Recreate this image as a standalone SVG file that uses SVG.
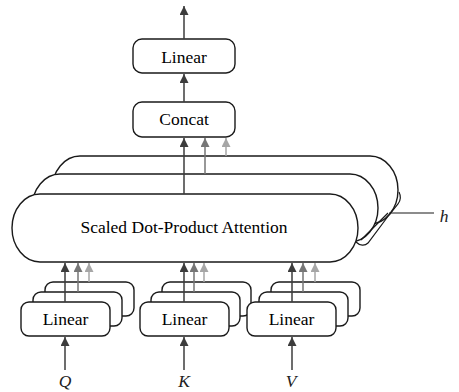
<svg xmlns="http://www.w3.org/2000/svg" width="459" height="392" viewBox="0 0 459 392">
  <style>
    .box { fill: #fff; stroke: #1a1a1a; stroke-width: 1.4; }
    .lbl { font-family: 'Liberation Serif', 'Times New Roman', serif; font-size: 17.5px; fill: #000; text-anchor: middle; }
    .var { font-family: 'Liberation Serif', 'Times New Roman', serif; font-size: 17.5px; font-style: italic; fill: #222; text-anchor: middle; }
    .a1 { stroke: #3c3c3c; stroke-width: 1.5; fill: none; marker-end: url(#h1); }
    .a2 { stroke: #767676; stroke-width: 1.5; fill: none; marker-end: url(#h2); }
    .a3 { stroke: #a6a6a6; stroke-width: 1.5; fill: none; marker-end: url(#h3); }
    .thin { stroke: #1a1a1a; stroke-width: 1.2; fill: none; }
  </style>
  <defs>
    <marker id="h1" viewBox="0 0 10 10" refX="10" refY="5" markerWidth="10" markerHeight="9" markerUnits="userSpaceOnUse" orient="auto">
      <path d="M0,0 L10,5 L0,10 Z" fill="#3c3c3c"/>
    </marker>
    <marker id="h2" viewBox="0 0 10 10" refX="10" refY="5" markerWidth="10" markerHeight="9" markerUnits="userSpaceOnUse" orient="auto">
      <path d="M0,0 L10,5 L0,10 Z" fill="#767676"/>
    </marker>
    <marker id="h3" viewBox="0 0 10 10" refX="10" refY="5" markerWidth="10" markerHeight="9" markerUnits="userSpaceOnUse" orient="auto">
      <path d="M0,0 L10,5 L0,10 Z" fill="#a6a6a6"/>
    </marker>
  </defs>

  <!-- stacked attention heads (back to front) -->
  <g id="attention">
    <path class="box" d="M80,156 H370 A28,34 0 0 1 370,224 H80 A28,34 0 0 1 80,156 Z"/>
    <path class="box" d="M60,174 H350 A28,34 0 0 1 350,242 H60 A28,34 0 0 1 60,174 Z"/>
    <path class="box" d="M40,194 H330 A28,34 0 0 1 330,262 H40 A28,34 0 0 1 40,194 Z"/>
    <text class="lbl" x="184" y="233">Scaled Dot-Product Attention</text>
  </g>

  <!-- head-count brace -->
  <g id="heads">
    <path class="thin" d="M356,242 C360,246 365,246 368,243 L389,215 L398,204 C401,200 401,196 399,192"/>
    <path class="thin" d="M361,240 L388,213"/>
    <path class="thin" d="M389,213 H434"/>
    <text class="var" x="444" y="222">h</text>
  </g>

  <g id="linear-out">
    <rect class="box" x="133" y="39" width="102" height="34" rx="9"/>
    <text class="lbl" x="184" y="63">Linear</text>
  </g>

  <g id="concat">
    <rect class="box" x="133" y="102" width="102" height="35" rx="9"/>
    <text class="lbl" x="184" y="125">Concat</text>
  </g>

  <g id="linear-q">
    <rect class="box" x="45" y="282" width="89" height="34" rx="8"/>
    <rect class="box" x="33" y="292" width="89" height="34" rx="8"/>
    <rect class="box" x="21" y="302" width="89" height="34" rx="8"/>
    <text class="lbl" x="65.5" y="325">Linear</text>
  </g>

  <g id="linear-k">
    <rect class="box" x="162" y="282" width="89" height="34" rx="8"/>
    <rect class="box" x="151" y="292" width="89" height="34" rx="8"/>
    <rect class="box" x="140" y="302" width="89" height="34" rx="8"/>
    <text class="lbl" x="184.5" y="325">Linear</text>
  </g>

  <g id="linear-v">
    <rect class="box" x="271" y="282" width="89" height="34" rx="8"/>
    <rect class="box" x="259" y="292" width="89" height="34" rx="8"/>
    <rect class="box" x="247" y="302" width="89" height="34" rx="8"/>
    <text class="lbl" x="291.5" y="325">Linear</text>
  </g>

  <g id="inputs">
    <text class="var" x="65" y="387">Q</text>
    <text class="var" x="184" y="387">K</text>
    <text class="var" x="291" y="387">V</text>
  </g>

  <g id="connectors">
    <line class="a1" x1="184" y1="39" x2="184" y2="6"/>
    <line class="a1" x1="184" y1="102" x2="184" y2="74"/>
    <line class="a1" x1="184" y1="194" x2="184" y2="138"/>
    <line class="a2" x1="205" y1="174" x2="205" y2="138"/>
    <line class="a3" x1="226" y1="156" x2="226" y2="138"/>

    <line class="a1" x1="65" y1="302" x2="65" y2="263"/>
    <line class="a2" x1="78" y1="292" x2="78" y2="263"/>
    <line class="a3" x1="89" y1="282" x2="89" y2="263"/>

    <line class="a1" x1="184" y1="302" x2="184" y2="263"/>
    <line class="a2" x1="194" y1="292" x2="194" y2="263"/>
    <line class="a3" x1="204" y1="282" x2="204" y2="263"/>

    <line class="a1" x1="292" y1="302" x2="292" y2="263"/>
    <line class="a2" x1="303" y1="292" x2="303" y2="263"/>
    <line class="a3" x1="315" y1="282" x2="315" y2="263"/>

    <line class="a1" x1="65" y1="370" x2="65" y2="337"/>
    <line class="a1" x1="184" y1="370" x2="184" y2="337"/>
    <line class="a1" x1="292" y1="370" x2="292" y2="337"/>
  </g>
</svg>
